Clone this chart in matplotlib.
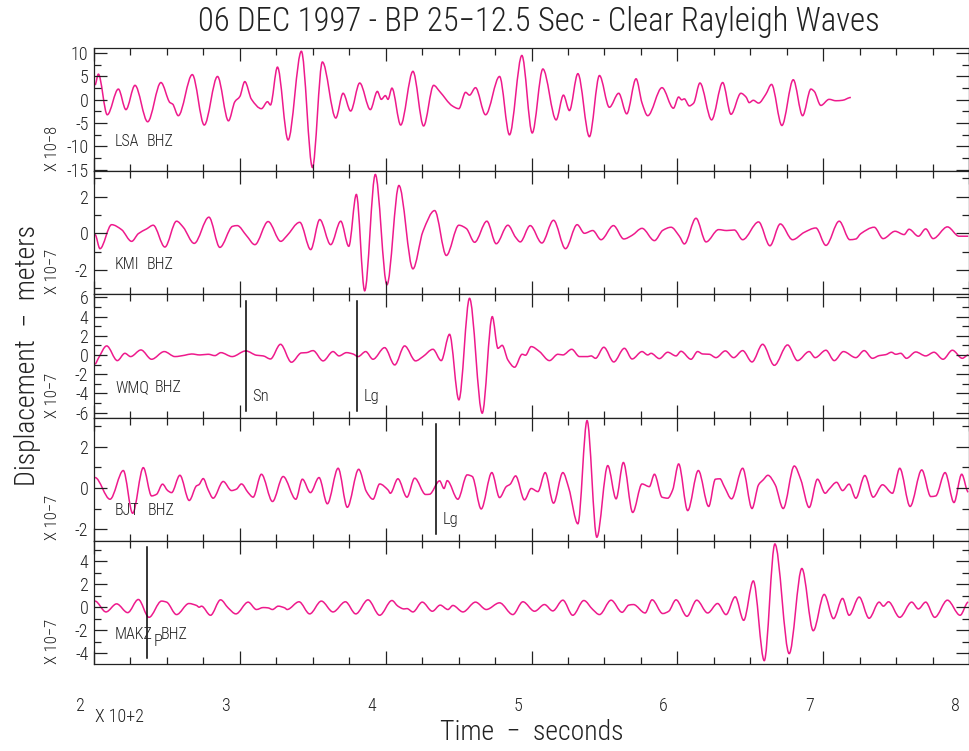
import numpy as np
import matplotlib
matplotlib.use('Agg')
import matplotlib.pyplot as plt
from matplotlib import font_manager
from matplotlib.path import Path
from matplotlib.patches import PathPatch
from matplotlib.ticker import MultipleLocator
from matplotlib.transforms import ScaledTranslation, blended_transform_factory

# narrow lettering like the plotting package's stroke font
have = {f.name for f in font_manager.fontManager.ttflist}
fam = [n for n in ['Liberation Sans Narrow', 'Roboto Condensed', 'DejaVu Sans'] if n in have]
plt.rcParams['font.family'] = fam + ['DejaVu Sans']
plt.rcParams['font.stretch'] = 'condensed'
plt.rcParams['font.weight'] = 'light'

# ---- traces (time in s, displacement in panel units)
lsa_t = [200.7, 203.0, 209.1, 216.7, 221.9, 228.1, 236.8, 245.9, 252.1, 253.9, 257.8, 267.4, 275.6,
         284.7, 292.2, 296.6, 300.0, 303.4, 308.0, 314.8, 319.0, 321.0, 325.8, 333.1, 342.2, 349.8,
         356.6, 365.8, 370.8, 376.0, 382.2, 389.5, 394.3, 397.0, 399.8, 401.6, 404.3, 410.3, 418.7,
         426.0, 432.9, 437.0, 445.7, 450.2, 454.8, 457.5, 461.6, 468.5, 478.1, 484.9, 493.4, 500.5,
         507.8, 516.9, 521.9, 526.0, 531.8, 539.7, 546.6, 553.4, 559.8, 565.3, 571.7, 575.8, 579.7,
         589.5, 597.3, 600.9, 603.0, 604.8, 608.2, 611.2, 615.5, 623.5, 631.1, 636.8, 643.6, 647.1,
         649.3, 652.1, 655.7, 660.7, 664.6, 671.7, 679.5, 685.9, 691.6, 693.9, 698.4, 704.1, 708.7,
         713.3, 719.0]
lsa_v = [3.2, 5.5, -3.2, 2.3, -2.1, 3.1, -4.7, 3.7, -0.6, -0.9, -3.4, 5.4, -5.4,
         5.0, -4.5, -0.4, 0.7, 3.9, 0.1, -1.9, -0.4, -1.1, 7.0, -8.6, 10.4, -14.5,
         8.1, -3.9, 1.4, -2.4, 3.6, -2.1, 1.8, 0.1, 0.9, 0.1, 2.5, -5.4, 6.1,
         -5.6, 3.1, 1.8, -1.3, -1.9, 1.6, 1.0, 2.6, -3.2, 5.0, -7.5, 9.5, -7.1,
         6.6, -4.3, 1.0, -2.3, 5.6, -7.9, 5.2, -1.6, 1.4, -3.0, 4.5, -0.7, -3.4,
         2.6, -1.8, 0.6, 0.0, 0.2, -1.3, -0.7, 3.6, -4.3, 3.7, -3.1, 1.4, 0.6,
         -0.6, -0.1, -0.7, 1.2, 3.3, -5.5, 4.3, -3.4, 2.3, 1.8, -1.2, 0.1, -0.2,
         -0.1, 0.5]

kmi_t = [200.7, 204.1, 212.1, 218.9, 225.8, 230.4, 236.1, 240.6, 248.6, 256.6, 261.2, 268.7, 278.8,
         286.3, 295.0, 298.2, 304.6, 310.3, 319.4, 328.1, 332.0, 341.1, 348.6, 354.8, 362.3, 369.2,
         374.7, 379.9, 385.6, 392.9, 400.9, 409.1, 418.7, 425.6, 433.6, 441.6, 450.2, 455.3, 461.0,
         469.4, 475.8, 483.8, 489.1, 492.3, 499.1, 507.1, 515.1, 523.3, 531.3, 536.3, 542.0, 547.7,
         556.2, 563.3, 569.0, 575.8, 584.3, 590.0, 595.7, 601.4, 604.8, 612.8, 619.7, 628.3, 633.8,
         639.1, 644.8, 655.7, 663.5, 670.6, 679.0, 687.0, 695.0, 701.9, 711.0, 718.3, 722.4, 725.8,
         735.0, 741.1, 749.3, 755.5, 758.9, 765.3, 770.3, 775.4, 785.2, 793.2, 799.5]
kmi_v = [-0.07, -0.84, 0.47, 0.20, -0.44, -0.02, 0.24, 0.44, -0.75, 0.66, 0.33, -0.55, 0.88,
         -0.77, 0.38, 0.42, -0.13, -0.62, 0.64, -0.44, -0.16, 0.60, -0.89, 0.75, -0.62, 0.66,
         -0.71, 2.12, -3.14, 3.21, -2.81, 2.61, -1.94, 0.11, 1.24, -1.21, 0.44, 0.26, -0.49,
         0.66, -0.57, 0.44, -0.22, -0.47, 0.42, -0.53, 0.71, -0.84, 0.47, 0.0, 0.15, -0.35,
         0.42, -0.31, -0.11, 0.27, -0.40, 0.16, 0.33, -0.16, -0.58, 0.82, -0.47, 0.20, 0.15,
         0.18, -0.35, 0.62, -0.68, 0.51, -0.35, 0.05, 0.29, -0.66, 0.66, -0.35, -0.31, -0.02,
         0.33, -0.29, 0.11, -0.07, 0.22, -0.16, 0.24, -0.29, 0.35, -0.16, -0.16]

wmq_t = [200.7, 203.0, 208.7, 216.0, 221.2, 225.1, 232.2, 239.5, 248.2, 255.5, 262.3, 266.9, 272.6,
         278.3, 282.9, 287.0, 294.7, 304.1, 311.4, 316.0, 321.0, 327.9, 335.4, 342.2, 345.7, 350.2,
         357.1, 363.9, 368.0, 373.1, 377.6, 381.1, 386.3, 391.3, 399.3, 406.2, 413.0, 420.5, 425.6,
         432.4, 438.1, 443.8, 450.2, 457.5, 466.2, 473.1, 477.0, 479.9, 483.8, 488.4, 493.6, 495.9,
         499.8, 505.5, 512.3, 518.1, 521.5, 527.6, 532.9, 538.6, 540.9, 543.9, 549.6, 556.4, 563.7,
         569.0, 575.8, 579.7, 582.0, 587.7, 593.4, 599.1, 602.5, 609.4, 613.9, 617.4, 621.9, 626.5,
         632.9, 638.6, 644.8, 651.2, 658.5, 666.5, 675.6, 682.4, 690.4, 694.5, 701.9, 707.6, 713.9,
         722.4, 728.1, 733.8, 738.4, 742.9, 746.8, 749.8, 753.2, 757.1, 763.5, 770.3, 776.0, 782.2,
         788.6, 795.4, 799.5]
wmq_v = [-0.94, -0.35, 0.94, -0.59, 0.17, -0.17, 0.52, -0.45, 0.35, -0.17, -0.03, 0.10, 0.0,
         0.07, -0.07, 0.24, -0.17, 0.42, -0.03, -0.10, -0.42, 1.11, -0.76, 0.21, 0.24, 0.45,
         -0.62, 0.35, -0.10, 0.24, 0.10, -0.17, 0.35, -0.45, 0.76, -1.04, 0.94, -0.62, -0.17,
         0.59, -0.59, 2.15, -4.68, 5.90, -6.07, 3.99, 0.69, 1.00, -0.52, -1.28, 0.07, -0.03,
         0.87, 0.35, -0.59, 0.07, 0.0, 0.59, -0.17, -0.17, -0.10, -0.35, 0.80, -0.73, 0.69,
         -0.42, 0.35, 0.0, 0.17, -0.38, 0.28, -0.10, 0.38, -0.45, 0.35, 0.10, 0.07, -0.28,
         0.42, -0.28, 0.45, -0.73, 1.11, -1.08, 1.04, -0.59, 0.35, -0.28, 0.49, -0.59, 0.35,
         -0.28, 0.45, -0.35, -0.07, 0.03, 0.28, 0.07, 0.17, -0.35, 0.31, -0.10, 0.28, -0.45,
         0.49, -0.35, 0.0]

bjt_t = [200.7, 211.0, 220.1, 226.5, 233.8, 239.5, 242.9, 247.0, 250.5, 253.2, 258.9, 265.3, 270.3,
         271.9, 274.9, 278.3, 281.7, 288.6, 294.3, 297.7, 301.1, 305.7, 309.1, 314.8, 322.4, 329.7,
         338.4, 342.9, 348.4, 354.3, 360.0, 367.4, 373.7, 381.5, 386.8, 391.3, 395.9, 401.6, 403.2,
         408.4, 414.6, 419.9, 427.4, 430.1, 437.0, 440.0, 442.2, 449.5, 455.9, 459.4, 465.5, 472.8,
         478.1, 482.7, 485.4, 489.1, 495.2, 499.8, 504.4, 509.4, 515.1, 521.5, 525.6, 531.8, 538.1,
         544.8, 552.3, 558.0, 563.0, 569.4, 575.8, 580.8, 584.3, 589.5, 593.4, 596.8, 600.9, 607.1,
         614.4, 621.5, 626.1, 629.2, 632.2, 637.2, 644.8, 651.2, 655.7, 658.9, 662.1, 667.1, 672.6,
         680.2, 684.7, 690.4, 696.1, 701.4, 704.1, 709.2, 713.3, 717.8, 722.4, 728.6, 734.3, 740.7,
         747.5, 752.5, 759.6, 767.6, 773.8, 777.2, 783.6, 789.7, 795.0, 799.5]
bjt_v = [0.50, -0.55, 0.84, -1.23, 0.98, -0.39, -0.31, 0.18, -0.13, -0.23, 0.61, -0.61, 0.10,
         0.15, 0.45, -0.10, -0.50, 0.31, -0.13, -0.06, 0.19, -0.23, -0.45, 0.66, -0.66, 0.55,
         -0.55, 0.42, -0.23, 0.50, -0.77, 0.95, -0.94, 0.90, -0.18, -0.55, 0.19, -0.10, -0.26,
         0.44, -0.45, 0.47, -0.32, -0.31, 0.34, -0.03, 0.35, -0.55, 0.63, 0.55, -1.02, 0.74,
         -0.47, 0.06, 0.18, 0.58, -0.58, -0.03, -0.18, 0.74, -0.74, 0.74, -0.02, -1.74, 3.26,
         -2.39, 1.08, -0.53, 1.23, -1.19, 0.19, 0.06, 0.66, -0.45, -0.50, -0.10, 1.16, -1.10,
         0.84, -0.90, 0.42, 0.44, 0.06, -0.53, 0.95, -1.00, 0.15, 0.39, 0.61, 0.15, -1.00,
         1.06, 0.39, -0.95, 0.42, -0.26, -0.06, 0.27, -0.13, 0.18, -0.50, 0.60, -0.45, 0.15,
         -0.26, 0.95, -0.90, 0.87, -0.42, -0.39, 0.74, -0.71, 0.66, -0.20]

makz_t = [200.7, 208.2, 215.5, 223.1, 230.4, 237.7, 246.3, 249.8, 256.6, 265.1, 270.3, 272.1, 273.7,
          279.9, 286.8, 292.0, 297.3, 305.7, 311.4, 316.0, 319.4, 322.4, 326.3, 330.8, 332.4, 340.6,
          347.9, 355.9, 363.9, 372.4, 379.5, 387.9, 395.9, 404.3, 408.4, 412.6, 414.6, 418.7, 425.1,
          432.0, 437.4, 442.7, 446.1, 453.0, 461.6, 469.0, 478.1, 487.2, 494.1, 502.1, 508.9, 514.6,
          521.5, 528.3, 535.9, 542.0, 546.6, 554.6, 562.1, 566.7, 569.9, 577.9, 582.7, 590.0, 594.1,
          599.1, 606.6, 613.3, 620.8, 627.6, 633.4, 639.7, 645.5, 652.1, 659.6, 666.9, 676.7, 685.4,
          693.2, 700.7, 707.1, 713.3, 717.8, 724.7, 731.5, 738.4, 741.3, 744.8, 752.5, 760.7, 765.3,
          770.3, 776.5, 785.2, 793.9, 799.5]
makz_v = [0.53, -0.41, 0.29, -0.47, 0.67, -0.88, 0.53, 0.44, -0.64, 0.32, 0.15, 0.0, 0.09,
          -0.70, 0.64, -0.06, -0.58, 0.44, -0.20, -0.03, -0.06, -0.20, 0.09, -0.06, -0.20, 0.47,
          -0.58, 0.53, -0.41, 0.47, -0.58, 0.64, -0.70, 0.58, 0.09, -0.15, -0.12, -0.41, 0.44,
          -0.35, 0.18, -0.20, 0.15, -0.41, 0.44, -0.20, 0.38, -0.64, 0.47, -0.35, 0.23, -0.32,
          0.61, -0.70, 0.58, -0.20, -0.64, 0.61, -0.44, 0.18, 0.23, -0.50, 0.64, -0.55, -0.35,
          0.64, -0.79, 0.61, -0.50, 0.32, -0.64, 0.90, -1.14, 2.28, -4.64, 5.49, -4.03, 3.36,
          -2.04, 1.11, -0.99, 0.76, -0.70, 0.88, -0.96, 0.44, 0.09, 0.47, -0.88, 0.44, -0.15,
          0.44, -0.88, 0.61, -0.70, 0.44]

station_names = ['LSA', 'KMI', 'WMQ', 'BJT', 'MAKZ']
channel = 'BHZ'
exponents = ['X 10\u22128', 'X 10\u22127', 'X 10\u22127', 'X 10\u22127', 'X 10\u22127']
times = [lsa_t, kmi_t, wmq_t, bjt_t, makz_t]
values = [lsa_v, kmi_v, wmq_v, bjt_v, makz_v]
ylims = [(-15.25, 11.1), (-3.33, 3.40), (-6.52, 6.32), (-2.55, 3.41), (-4.93, 5.79)]
ymajor = [5, 2, 2, 2, 2]
yminor = [2.5, 1, 1, 1, 1]

# phase picks: (panel index, time, label)
pick_panel = [2, 2, 3, 4]
pick_time = [304.1, 380.1, 434.2, 236.1]
pick_label = ['Sn', 'Lg', 'Lg', 'P']

trace_color = '#EE1A8C'
ink = '#222222'


def trace_path(t, v):
    # smooth curve through the read points (monotone cubic segments)
    t = np.asarray(t, float)
    v = np.asarray(v, float)
    s = np.diff(v) / np.diff(t)
    m = np.zeros(len(t))
    for i in range(1, len(t) - 1):
        if s[i - 1] * s[i] > 0:
            m[i] = 2.0 / (1.0 / s[i - 1] + 1.0 / s[i])
    verts = [(t[0], v[0])]
    codes = [Path.MOVETO]
    for i in range(len(t) - 1):
        h = (t[i + 1] - t[i]) / 3.0
        verts += [(t[i] + h, v[i] + m[i] * h),
                  (t[i + 1] - h, v[i + 1] - m[i + 1] * h),
                  (t[i + 1], v[i + 1])]
        codes += [Path.CURVE4] * 3
    return Path(verts, codes)


W, H = 970, 751
fig = plt.figure(figsize=(W / 100, H / 100), dpi=100)
edges = [48, 171, 294.3, 417.5, 540.5, 664]
left, right = 94, 969
# channel name sits after the station name (pixel column of "BHZ")
chan_x = [147, 147, 155, 148, 161]

axes = []
for k in range(5):
    ax = fig.add_axes([left / W, 1 - edges[k + 1] / H, (right - left) / W, (edges[k + 1] - edges[k]) / H])
    axes.append(ax)
    ax.add_patch(PathPatch(trace_path(times[k], values[k]), fill=False, edgecolor=trace_color,
                           lw=1.1, clip_on=True))
    ax.set_xlim(200, 800)
    ax.set_ylim(*ylims[k])
    ax.xaxis.set_major_locator(MultipleLocator(100))
    ax.xaxis.set_minor_locator(MultipleLocator(25))
    ax.yaxis.set_major_locator(MultipleLocator(ymajor[k]))
    ax.yaxis.set_minor_locator(MultipleLocator(yminor[k]))
    ax.tick_params(which='both', direction='in', top=True, bottom=True, left=True, right=True,
                   colors=ink, width=0.9, labelsize=13, labelcolor=ink)
    ax.tick_params(which='major', length=9.5)
    ax.tick_params(which='minor', length=5)
    ax.tick_params(axis='y', pad=4)
    for sp in ax.spines.values():
        sp.set_color(ink)
        sp.set_linewidth(0.9)
    ax.set_yticklabels([f'{int(y)}' if float(y).is_integer() else '' for y in ax.get_yticks()])
    ax.text(0.024, 0.24, station_names[k], transform=ax.transAxes, fontsize=11.5, color=ink,
            ha='left', va='center')
    ax.text((chan_x[k] - left) / (right - left), 0.24, channel, transform=ax.transAxes,
            fontsize=11.5, color=ink, ha='left', va='center')
    ax.text(-0.0475, 0.0, exponents[k], transform=ax.transAxes, rotation=90, fontsize=12,
            color=ink, ha='center', va='bottom')
    if k < 4:
        ax.tick_params(axis='x', labelbottom=False)

for p, t, lab in zip(pick_panel, pick_time, pick_label):
    ax = axes[p]
    ax.axvline(t, ymin=0.05, ymax=0.946, color='black', lw=1.1)
    tr = blended_transform_factory(ax.transData, ax.transAxes)
    ax.text(t + 4.6, 0.18 if lab == 'P' else 0.17, lab, transform=tr, fontsize=12, color=ink,
            ha='left', va='center')

bottom = axes[-1]
bottom.tick_params(axis='x', pad=24, labelsize=13)
bottom.set_xticks([200, 300, 400, 500, 600, 700, 800])
bottom.set_xticklabels(['2', '3', '4', '5', '6', '7', '8'])
shift = ScaledTranslation(-0.14, 0, fig.dpi_scale_trans)
for lab in bottom.get_xticklabels():
    lab.set_transform(lab.get_transform() + shift)
fig.text(95 / W, 1 - 717 / H, 'X 10+2', fontsize=13, color=ink, ha='left', va='center')

fig.text(539 / W, 1 - 22 / H, '06 DEC 1997 - BP 25\u221212.5 Sec - Clear Rayleigh Waves',
         fontsize=23.5, color=ink, ha='center', va='center')
fig.text(532 / W, 1 - 733 / H, 'Time  \u2212  seconds', fontsize=20, color=ink,
         ha='center', va='center')
fig.text(28 / W, 1 - 356 / H, 'Displacement  \u2212  meters', fontsize=20, color=ink,
         rotation=90, ha='center', va='center')

fig.savefig('out.png', dpi=100)
